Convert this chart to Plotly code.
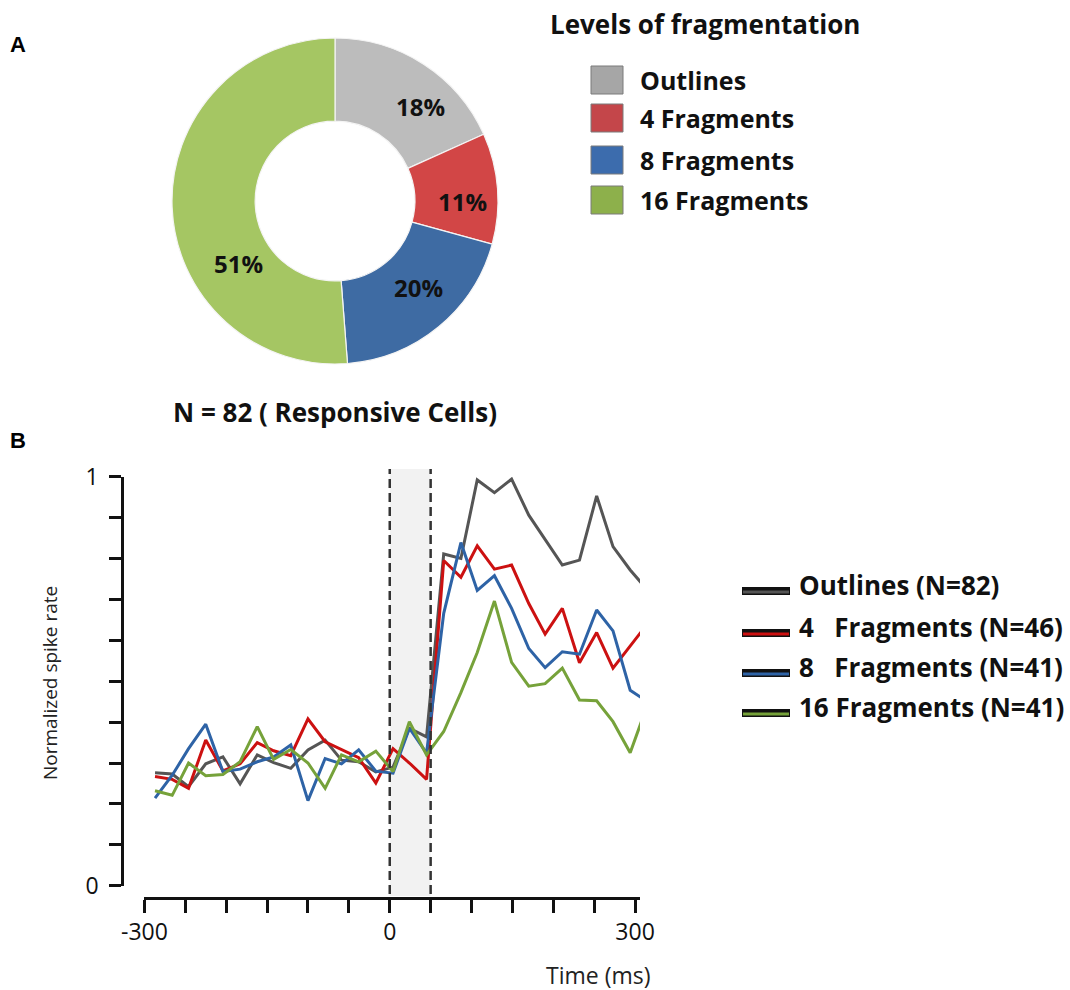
import plotly.graph_objects as go

# ---------------- data ----------------
categories = ["Outlines", "4 Fragments", "8 Fragments", "16 Fragments"]
cell_counts = [15, 9, 16, 42]          # N = 82 responsive cells
pie_colors = ["#BCBCBC", "#D24646", "#3E6BA3", "#A5C663"]
legend_swatch_colors = ["#A6A6A6", "#C4464A", "#3C6CAD", "#8DB04B"]

time_ms = [-287, -266, -246, -225, -204, -183, -162, -142, -121, -100,
           -79, -59, -38, -17, 4, 24, 45, 66, 87, 107,
           128, 149, 170, 190, 211, 232, 253, 273, 294, 315]

outlines = [0.276, 0.273, 0.242, 0.298, 0.315, 0.249, 0.320, 0.301, 0.287, 0.332,
            0.356, 0.307, 0.303, 0.278, 0.290, 0.385, 0.364, 0.811, 0.800, 0.992,
            0.961, 0.994, 0.906, 0.845, 0.784, 0.796, 0.953, 0.829, 0.772, 0.723]
frag4 = [0.267, 0.260, 0.238, 0.356, 0.281, 0.298, 0.350, 0.330, 0.318, 0.408,
         0.352, 0.332, 0.313, 0.251, 0.335, 0.300, 0.260, 0.795, 0.754, 0.831,
         0.774, 0.784, 0.690, 0.615, 0.678, 0.545, 0.619, 0.532, 0.587, 0.640]
frag8 = [0.214, 0.270, 0.335, 0.395, 0.279, 0.285, 0.303, 0.315, 0.344, 0.208,
         0.311, 0.298, 0.332, 0.280, 0.275, 0.385, 0.324, 0.666, 0.839, 0.722,
         0.758, 0.678, 0.580, 0.533, 0.572, 0.566, 0.674, 0.623, 0.478, 0.450]
frag16 = [0.232, 0.221, 0.300, 0.269, 0.272, 0.303, 0.389, 0.309, 0.333, 0.300,
          0.238, 0.320, 0.303, 0.329, 0.279, 0.401, 0.320, 0.377, 0.472, 0.570,
          0.696, 0.546, 0.488, 0.494, 0.532, 0.454, 0.452, 0.401, 0.325, 0.442]

line_series = [outlines, frag4, frag8, frag16]
line_names = ["Outlines (N=82)",
              "4\u00a0\u00a0\u00a0Fragments (N=46)",
              "8\u00a0\u00a0\u00a0Fragments (N=41)",
              "16 Fragments (N=41)"]
line_colors = ["#555555", "#CC1111", "#2E63A6", "#76A23A"]

x_tick_vals = [-300, -250, -200, -150, -100, -50, 0, 50, 100, 150, 200, 250, 300]
x_tick_text = ["-300", "", "", "", "", "", "0", "", "", "", "", "", "300"]
y_tick_vals = [0, 0.1, 0.2, 0.3, 0.4, 0.5, 0.6, 0.7, 0.8, 0.9, 1.0]
y_tick_text = ["0", "", "", "", "", "", "", "", "", "", "1"]

stim_window = [0, 50]

# ---------------- layout helpers ----------------
W, H = 1070, 990
def X(px):
    return px / W
def Y(py):
    return 1 - py / H

BOLD = "Open Sans"
REG = "Open Sans"

fig = go.Figure()

# Donut (panel A)
fig.add_trace(go.Pie(
    values=cell_counts, labels=categories, hole=0.49, sort=False,
    direction="clockwise", rotation=0,
    marker=dict(colors=pie_colors, line=dict(color="#F4F4F4", width=1.2)),
    textinfo="none", showlegend=False, hoverinfo="label+percent",
    domain=dict(x=[X(172), X(498)], y=[Y(364), Y(38)]),
))

# Lines (panel B)
for s, name, col in zip(line_series, line_names, line_colors):
    fig.add_trace(go.Scatter(
        x=time_ms, y=s, mode="lines", name=name,
        line=dict(color=col, width=3), showlegend=False,
        xaxis="x", yaxis="y",
    ))

annotations = []
shapes = []

# percent labels on donut
total = sum(cell_counts)
pie_label_pos = [(420, 106), (462, 202), (418, 287), (238, 263)]
for c, (px, py) in zip(cell_counts, pie_label_pos):
    annotations.append(dict(
        text=f"<b>{round(100 * c / total)}%</b>", x=X(px), y=Y(py),
        xref="paper", yref="paper", showarrow=False,
        font=dict(family=BOLD, size=24, color="#111111"),
        xanchor="center", yanchor="middle"))

# N label
annotations.append(dict(
    text=f"<b>N = {total} ( Responsive Cells)</b>", x=X(335), y=Y(412),
    xref="paper", yref="paper", showarrow=False,
    font=dict(family=BOLD, size=26, color="#111111"),
    xanchor="center", yanchor="middle"))

# Panel letters
for letter, (px, py) in zip(["A", "B"], [(18, 45), (18, 440)]):
    annotations.append(dict(
        text=f"<b>{letter}</b>", x=X(px), y=Y(py), xref="paper", yref="paper",
        showarrow=False, font=dict(family="Liberation Sans", size=22, color="#000"),
        xanchor="center", yanchor="middle"))

# Pie legend (manual)
annotations.append(dict(
    text="<b>Levels of fragmentation</b>", x=X(705), y=Y(24),
    xref="paper", yref="paper", showarrow=False,
    font=dict(family=BOLD, size=26, color="#111111"),
    xanchor="center", yanchor="middle"))
pie_leg_rows = [80, 118, 160, 200]
for cat, col, ry in zip(categories, legend_swatch_colors, pie_leg_rows):
    shapes.append(dict(type="rect", xref="paper", yref="paper",
                       x0=X(591), x1=X(623), y0=Y(ry + 14), y1=Y(ry - 14),
                       fillcolor=col, line=dict(color="#7A7A7A", width=1)))
    annotations.append(dict(
        text=f"<b>{cat}</b>", x=X(638), y=Y(ry), xref="paper", yref="paper",
        showarrow=False, font=dict(family=BOLD, size=25, color="#111111"),
        xanchor="left", yanchor="middle"))

# Line legend (manual)
line_leg_text_rows = [585, 627, 667, 707]
for name, col, ry in zip(line_names, line_colors, line_leg_text_rows):
    sy = ry + 6
    shapes.append(dict(type="line", xref="paper", yref="paper",
                       x0=X(742), x1=X(790), y0=Y(sy), y1=Y(sy),
                       line=dict(color="#111111", width=8)))
    shapes.append(dict(type="line", xref="paper", yref="paper",
                       x0=X(743), x1=X(789), y0=Y(sy + 1), y1=Y(sy + 1),
                       line=dict(color=col, width=3)))
    annotations.append(dict(
        text=f"<b>{name}</b>", x=X(797), y=Y(ry), xref="paper", yref="paper",
        showarrow=False, font=dict(family=BOLD, size=26, color="#111111"),
        xanchor="left", yanchor="middle"))

# Stimulus window shading and dashed lines
shapes.append(dict(type="rect", xref="x", yref="paper",
                   x0=stim_window[0], x1=stim_window[1], y0=Y(896), y1=Y(469),
                   fillcolor="#F2F2F2", line=dict(width=0), layer="below"))
for xv in stim_window:
    shapes.append(dict(type="line", xref="x", yref="paper",
                       x0=xv, x1=xv, y0=Y(894), y1=Y(469),
                       line=dict(color="#333333", width=2.5, dash="9px,5px"),
                       layer="above"))

# Axis titles
annotations.append(dict(
    text="Time (ms)", x=X(598), y=Y(975), xref="paper", yref="paper",
    showarrow=False, font=dict(family=REG, size=23, color="#222222"),
    xanchor="center", yanchor="middle"))
annotations.append(dict(
    text="Normalized spike rate", x=X(50), y=Y(683), xref="paper", yref="paper",
    showarrow=False, textangle=-90, font=dict(family=REG, size=19, color="#222222"),
    xanchor="center", yanchor="middle"))

fig.update_layout(
    width=W, height=H,
    margin=dict(l=0, r=0, t=0, b=0, pad=0, autoexpand=False),
    paper_bgcolor="white", plot_bgcolor="rgba(0,0,0,0)",
    showlegend=False,
    xaxis=dict(domain=[X(144.4), X(640)], range=[-300, 306],
               anchor="free", position=Y(898), automargin=False,
               showline=True, linecolor="#111111", linewidth=2.5,
               ticks="outside", ticklen=13, tickwidth=2.5, tickcolor="#111111",
               tickmode="array", tickvals=x_tick_vals, ticktext=x_tick_text,
               tickfont=dict(family=REG, size=23, color="#111111"),
               showgrid=False, zeroline=False),
    yaxis=dict(domain=[Y(885.7), Y(476.7)], range=[0, 1],
               anchor="free", position=X(122), automargin=False,
               showline=True, linecolor="#111111", linewidth=2.5,
               ticks="outside", ticklen=12, tickwidth=2.5, tickcolor="#111111",
               tickmode="array", tickvals=y_tick_vals, ticktext=y_tick_text,
               tickfont=dict(family=REG, size=23, color="#111111"),
               ticklabelstandoff=6,
               showgrid=False, zeroline=False),
    annotations=annotations,
    shapes=shapes,
)

fig.write_html("out.html",
               config={"displayModeBar": False},
               post_script="document.body.style.margin='0px';document.body.style.overflow='hidden';")
